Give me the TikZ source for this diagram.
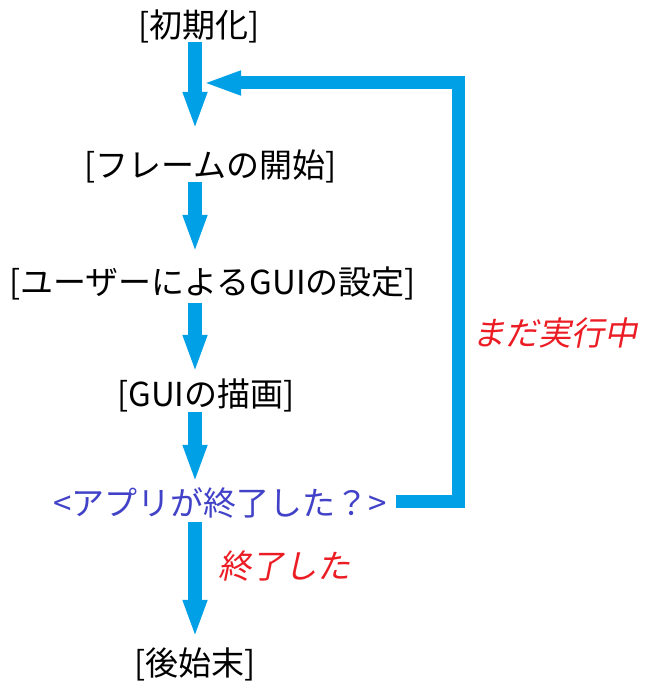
\documentclass[tikz,border=0pt]{standalone}
\usepackage{fontspec}
\setmainfont{Noto Sans CJK JP}
\newfontfamily\slantjp[FakeSlant=0.2]{Noto Sans CJK JP}
\usetikzlibrary{arrows.meta}
\definecolor{flowblue}{RGB}{0,160,230}
\definecolor{qblue}{RGB}{66,66,200}
\definecolor{lred}{RGB}{236,28,36}
\tikzset{
  stepbox/.style={inner sep=0pt, text height=29pt, text depth=4pt, font=\fontsize{33}{36}\selectfont},
  flow/.style={draw=flowblue, line width=14pt, -{Triangle[length=38pt,width=22pt]}},
  lbl/.style={inner sep=0pt, text=lred, font=\fontsize{33}{36}\selectfont\slantjp}
}
\begin{document}
\begin{tikzpicture}[x=1pt,y=-1pt]
\useasboundingbox (0,0) rectangle (647,684);
\coordinate (col) at (195,0);
\node[stepbox] (a) at (199,25) {[初期化]};
\node[stepbox] (b) at (210.5,165) {[フレームの開始]};
\node[stepbox] (c) at (212.5,282) {[ユーザーによるGUIの設定]};
\node[stepbox] (d) at (206,393.5) {[GUIの描画]};
\node[stepbox, text=qblue] (e) at (220,503) {<アプリが終了した？>};
\node[stepbox] (f) at (195,662.5) {[後始末]};
\node[lbl] (l1) at (555,333) {まだ実行中};
\node[lbl] (l2) at (284,566) {終了した};
\coordinate (top) at (458,83);
\coordinate (join) at (203,83);
\draw[flow, shorten <=0.5pt, shorten >=18.5pt] (a.south -| col) -- (b.north -| col);
\draw[flow, shorten <=0.5pt, shorten >=12.5pt] (b.south -| col) -- (c.north -| col);
\draw[flow, shorten <=4.5pt, shorten >=4pt] (c.south -| col) -- (d.north -| col);
\draw[flow, shorten <=2pt, shorten >=3.5pt] (d.south -| col) -- (e.north -| col);
\draw[flow, shorten <=2.5pt, shorten >=8pt] (e.south -| col) -- (f.north -| col);
\draw[flow, line width=13pt, line join=miter] ([shift={(9pt,2pt)}]e.east) -| (top) -- (join);
\end{tikzpicture}
\end{document}
